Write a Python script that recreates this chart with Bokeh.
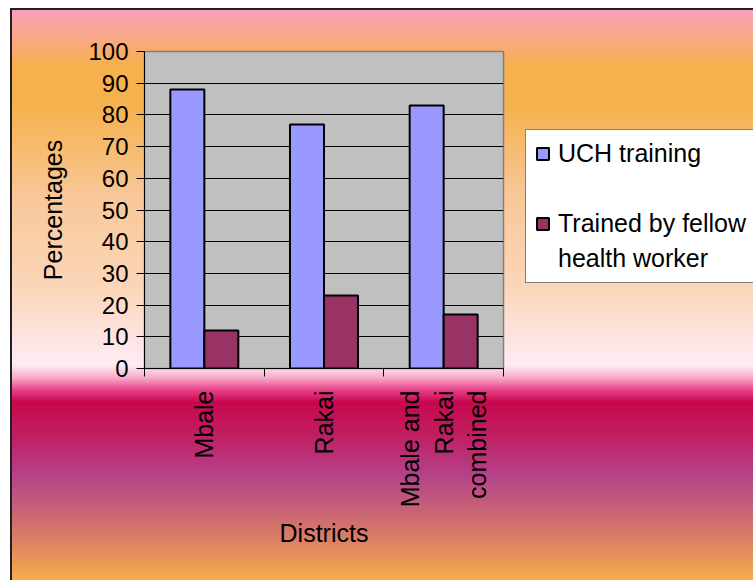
import math

from bokeh.embed import file_html
from bokeh.models import (ColumnDataSource, FixedTicker, Legend, LegendItem,
                          Range1d)
from bokeh.plotting import figure
from bokeh.resources import INLINE
from bokeh.transform import dodge

# ---- data -------------------------------------------------------------
districts = ["Mbale", "Rakai", "Mbale and Rakai combined"]
uch_training = [88, 77, 83]
fellow_trained = [12, 23, 17]
series_names = ["UCH training", "Trained by fellow health worker"]
y_ticks = [0, 10, 20, 30, 40, 50, 60, 70, 80, 90, 100]

# ---- styling ----------------------------------------------------------
FONT = "Liberation Sans"
BLUE = "#9999FF"
PLUM = "#993366"
BAR_W = 0.284

# vertical "fire" backdrop behind the whole chart
backdrop = ", ".join([
    "#F9A0C4 0px", "#F9A3A8 12px", "#F9A982 32px", "#F6B04E 57px",
    "#F6B250 102px", "#F9C89A 192px", "#FBD6BA 282px", "#FDE4E4 332px",
    "#FEECF3 357px", "#F8A8C8 370px", "#E8408A 382px", "#C8084E 394px",
    "#C01E62 427px", "#B5428A 467px", "#C55E78 497px", "#DC8064 532px",
    "#F5AE4C 572px",
])

n = len(districts)
slot_centres = [i + 0.5 for i in range(n)]   # one unit-wide slot per district
slot_edges = list(range(n + 1))

p = figure(
    frame_width=359, frame_height=317, margin=(8, 0, 0, 10),
    x_range=Range1d(0, n), y_range=Range1d(0, 100),
    output_backend="svg", toolbar_location=None, title=None,
    min_border_left=134, min_border_right=250,
    min_border_top=43, min_border_bottom=212,
    background_fill_color="#C0C0C0", border_fill_color=None,
    outline_line_color="#808080", outline_line_width=1.5,
)
p.styles = {
    "background-image": f"linear-gradient(to bottom, {backdrop})",
    "box-shadow": "inset 2px 2px 0 #202020",
}

# ---- grid -------------------------------------------------------------
p.xgrid.visible = False
p.ygrid.ticker = FixedTicker(ticks=y_ticks)
p.ygrid.grid_line_color = "black"
p.ygrid.grid_line_width = 1

# ---- y axis -----------------------------------------------------------
yax = p.yaxis[0]
yax.ticker = FixedTicker(ticks=y_ticks)
yax.major_tick_out = 8
yax.major_tick_in = 0
yax.minor_tick_out = 0
yax.minor_tick_in = 0
yax.axis_line_color = "black"
yax.major_tick_line_color = "black"
yax.major_label_text_font = FONT
yax.major_label_text_font_size = "24px"
yax.major_label_text_color = "black"
yax.major_label_standoff = 8
yax.axis_label = "Percentages"
yax.axis_label_text_font = FONT
yax.axis_label_text_font_size = "25px"
yax.axis_label_text_font_style = "normal"
yax.axis_label_text_color = "black"
yax.axis_label_standoff = 18

# ---- x axis: names under each slot, tick marks on the slot edges -------
xax = p.xaxis[0]
xax.ticker = FixedTicker(ticks=slot_centres, minor_ticks=slot_edges)
xax.axis_line_color = "black"
xax.major_tick_line_color = None
xax.major_tick_out = 0
xax.major_tick_in = 0
xax.minor_tick_line_color = "black"
xax.minor_tick_out = 8
xax.minor_tick_in = 0
xax.major_label_orientation = math.pi / 2
xax.major_label_overrides = {
    slot_centres[0]: districts[0],
    slot_centres[1]: districts[1],
    slot_centres[2]: "Mbale and\nRakai\ncombined",
}
xax.major_label_text_font = FONT
xax.major_label_text_font_size = "25px"
xax.major_label_text_color = "black"
xax.major_label_text_align = "center"
xax.major_label_text_line_height = 1.2
xax.major_label_standoff = 14
xax.axis_label = "Districts"
xax.axis_label_text_font = FONT
xax.axis_label_text_font_size = "25px"
xax.axis_label_text_font_style = "normal"
xax.axis_label_text_color = "black"
xax.axis_label_standoff = 9

# ---- bars -------------------------------------------------------------
src = ColumnDataSource(dict(district=districts, slot=slot_centres,
                            uch=uch_training, fellow=fellow_trained))
r_uch = p.vbar(x=dodge("slot", -BAR_W / 2), top="uch", width=BAR_W,
               source=src, fill_color=BLUE, line_color="black", line_width=2)
r_fellow = p.vbar(x=dodge("slot", BAR_W / 2), top="fellow", width=BAR_W,
                  source=src, fill_color=PLUM, line_color="black", line_width=2)

# invisible renderer used for spacer / continuation rows in the legend
blank = p.vbar(x=[], top=[], width=0.1, fill_alpha=0, line_alpha=0)

# ---- legend -----------------------------------------------------------
fellow_lines = ["Trained by fellow", "health worker"]
legend = Legend(
    items=[
        LegendItem(label=series_names[0], renderers=[r_uch]),
        LegendItem(label=" ", renderers=[blank]),
        LegendItem(label=fellow_lines[0], renderers=[r_fellow]),
        LegendItem(label=fellow_lines[1], renderers=[blank]),
    ],
    location=(22, 85),
    label_text_font=FONT, label_text_font_size="25px",
    label_text_color="black",
    label_height=29, glyph_height=15, glyph_width=15,
    spacing=6, padding=9, margin=0, label_standoff=8,
    border_line_color="black", border_line_width=1,
    background_fill_color="white", background_fill_alpha=1,
)
p.add_layout(legend, "right")

open("out.html", "w").write(file_html(p, INLINE))
